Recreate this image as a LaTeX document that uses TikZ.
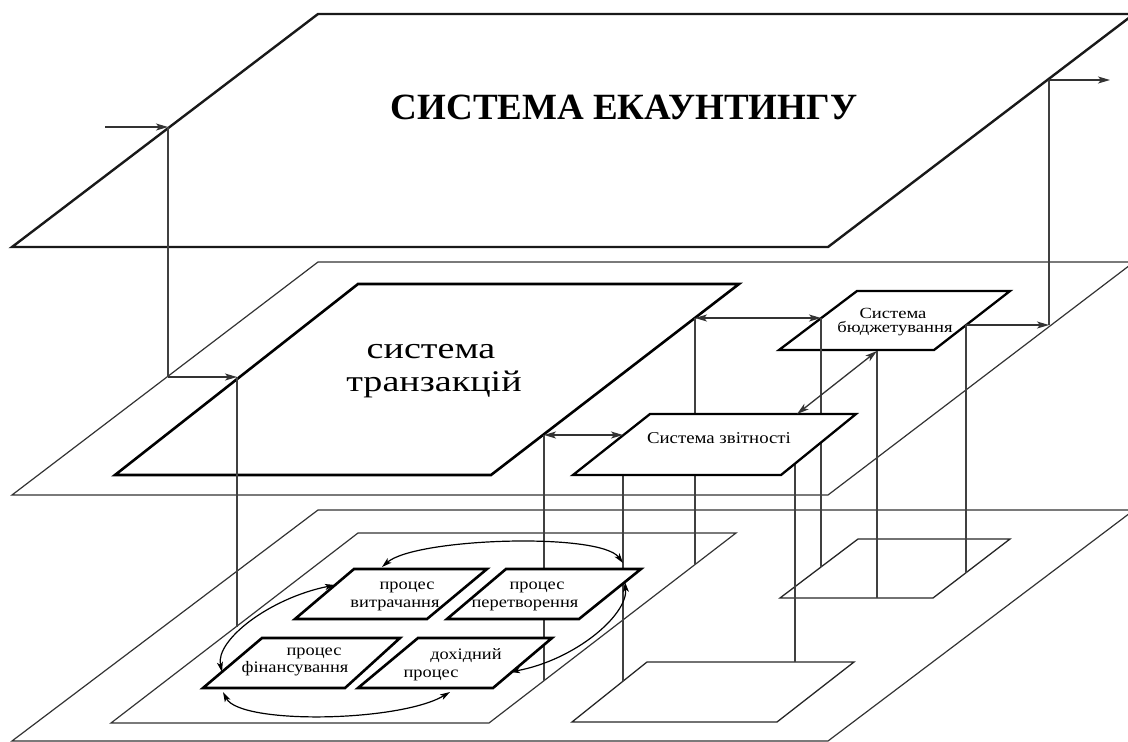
\documentclass[tikz,border=0pt]{standalone}
\usepackage{fontspec}
\setmainfont{Liberation Serif}
\usetikzlibrary{arrows.meta}
\begin{document}
\begin{tikzpicture}[x=1pt,y=-1pt,
  thickplane/.style={draw=black!90, line width=2.4pt, line join=miter},
  plane/.style={draw=black!80, line width=1.2pt},
  box/.style={draw=black, line width=2.6pt, line join=miter},
  midbox/.style={draw=black, line width=2.3pt, line join=miter},
  thinbox/.style={draw=black!85, line width=1.3pt},
  vline/.style={draw=black!75, line width=1.3pt},
  tip/.tip={Stealth[length=12pt,width=7pt,inset=3pt]},
  stip/.tip={Stealth[length=10pt,width=6pt,inset=2.5pt]},
  arr/.style={draw=black!80, line width=1.3pt, -tip},
  darr/.style={draw=black!80, line width=1.3pt, tip-tip},
  earr/.style={draw=black, line width=1.2pt, stip-stip},
  lbl/.style={inner sep=0pt, anchor=base},
  big/.style={lbl, font=\fontsize{30}{32}\selectfont},
  mid/.style={lbl, font=\fontsize{15.5}{17}\selectfont},
  sml/.style={lbl, font=\fontsize{16}{17}\selectfont}
]
\clip (0,0) rectangle (1128,742);

% ---------- planes ----------
\draw[thickplane] (12,247) -- (318,14) -- (1134,14) -- (828,247) -- cycle;
\draw[plane] (12,495) -- (318,262) -- (1134,262) -- (828,495) -- cycle;
\draw[plane] (12,741) -- (318,510) -- (1134,510) -- (828,741) -- cycle;

% ---------- bottom-plane frames ----------
\draw[plane] (111,723) -- (358,533) -- (736,533) -- (489,723) -- cycle;
\draw[thinbox] (780,598) -- (858,539) -- (1010,539) -- (933,598) -- cycle;
\draw[thinbox] (572,722) -- (647,662) -- (854,662) -- (777,722) -- cycle;

% ---------- middle-plane boxes ----------
\draw[box] (115,475) -- (358,284) -- (739,284) -- (491,475) -- cycle;
\draw[midbox] (779,350) -- (857,291) -- (1010,291) -- (934,350) -- cycle;

% ---------- named points ----------
\coordinate (inS) at (105,127);
\coordinate (inT) at (168,127);
\coordinate (inM) at (168,377);
\coordinate (trL) at (237,377);
\coordinate (ibL) at (237,627);
\coordinate (trR1) at (695,318);
\coordinate (buL) at (821,318);
\coordinate (trR2) at (544,435);
\coordinate (reL) at (623,435);
\coordinate (buB) at (877,351);
\coordinate (reT) at (797,414);
\coordinate (reT2) at (795,414);
\coordinate (buR) at (966,325);
\coordinate (mpR) at (1049,325);
\coordinate (tpR) at (1049,80);
\coordinate (outE) at (1110,80);
\coordinate (ibR1) at (544,681);
\coordinate (lbL) at (623,681);
\coordinate (ibR2) at (695,564);
\coordinate (lbT) at (795,662);
\coordinate (sbL) at (821,567);
\coordinate (sbB) at (877,598);
\coordinate (sbR) at (966,573);

% ---------- vertical links ----------
\draw[vline] (inT) -- (inM);
\draw[vline] (trL) -- (ibL);
\draw[vline] (trR2) -- (ibR1);
\draw[vline] (reL) -- (lbL);
\draw[vline] (trR1) -- (ibR2);
\draw[vline] (reT2) -- (lbT);
\draw[vline] (buL) -- (sbL);
\draw[vline] (buB) -- (sbB);
\draw[vline] (buR) -- (sbR);
\draw[vline] (mpR) -- (tpR);

% reporting box (opaque)
\draw[midbox, fill=white] (573,475) -- (650,414) -- (856,414) -- (781,475) -- cycle;

% ---------- process boxes ----------
\draw[box, fill=white] (295,619) -- (354,569) -- (487,569) -- (427,619) -- cycle;
\draw[box, fill=white] (447,619) -- (506,569) -- (641,569) -- (579,619) -- cycle;
\draw[box, fill=white] (203,688) -- (262,638) -- (400,638) -- (345,688) -- cycle;
\draw[box, fill=white] (358,688) -- (418,638) -- (552,638) -- (493,688) -- cycle;

% ---------- arrows ----------
\draw[arr] (inS) -- (inT);
\draw[arr] (inM) -- (trL);
\draw[darr] (trR1) -- (buL);
\draw[darr] (trR2) -- (reL);
\draw[darr] (buB) -- (reT);
\draw[arr] (buR) -- (mpR);
\draw[arr] (tpR) -- (outE);

% ellipse of processes
\coordinate (eTa) at (382,567);  \coordinate (eTb) at (623,563);
\coordinate (eRa) at (625,582);  \coordinate (eRb) at (510,672);
\coordinate (eBa) at (223,692);  \coordinate (eBb) at (450,692);
\coordinate (eLa) at (335,585);  \coordinate (eLb) at (222,672);
\draw[earr] (eTa) .. controls (415,538) and (600,532) .. (eTb);
\draw[earr] (eRa) .. controls (628,615) and (575,660) .. (eRb);
\draw[earr] (eBa) .. controls (240,725) and (400,722) .. (eBb);
\draw[earr] (eLa) .. controls (270,598) and (215,640) .. (eLb);

% ---------- texts ----------
\node[font=\bfseries\fontsize{37}{40}\selectfont] (title) at (624,107) {СИСТЕМА ЕКАУНТИНГУ};
\node[big] (tr1) at (431,358) {\scalebox{1.27}[1]{система}};
\node[big] (tr2) at (434,391) {\scalebox{1.27}[1]{транзакцій}};
\node[mid] (bu1) at (893,318) {\scalebox{1.2}[1]{Система}};
\node[mid] (bu2) at (895,332) {\scalebox{1.2}[1]{бюджетування}};
\node[lbl, font=\fontsize{16.5}{18}\selectfont] (re1) at (719,443) {\scalebox{1.14}[1]{Система звітності}};
\node[sml] (p1a) at (407,589) {\scalebox{1.15}[1]{процес}};
\node[sml] (p1b) at (395,607) {\scalebox{1.15}[1]{витрачання}};
\node[sml] (p2a) at (537,589) {\scalebox{1.15}[1]{процес}};
\node[sml] (p2b) at (525,607) {\scalebox{1.15}[1]{перетворення}};
\node[sml] (p3a) at (314,655) {\scalebox{1.15}[1]{процес}};
\node[sml] (p3b) at (295,672) {\scalebox{1.15}[1]{фінансування}};
\node[sml] (p4a) at (466,659) {\scalebox{1.15}[1]{дохідний}};
\node[sml] (p4b) at (431,677) {\scalebox{1.15}[1]{процес}};
\end{tikzpicture}
\end{document}
